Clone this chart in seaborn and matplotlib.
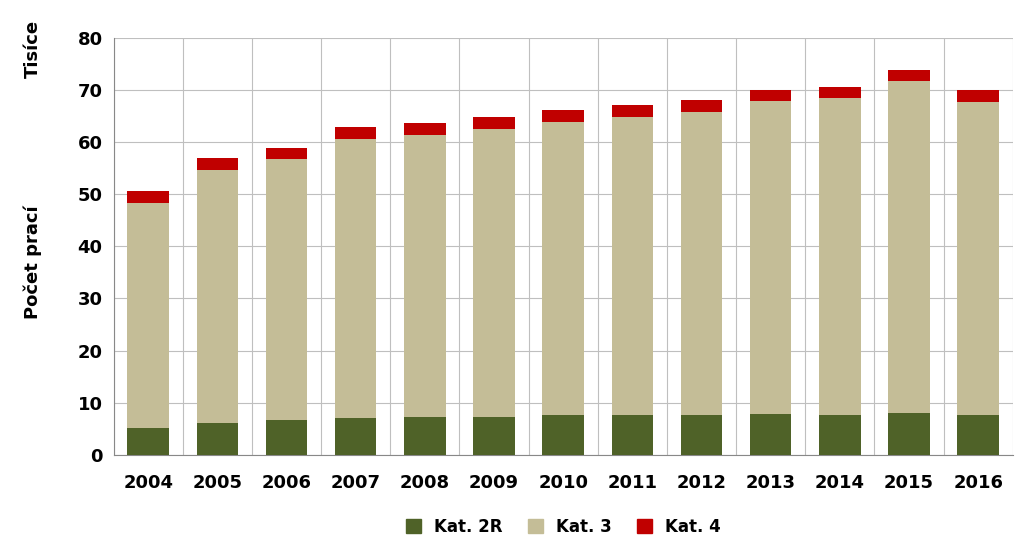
import matplotlib
matplotlib.use("Agg")
import matplotlib.pyplot as plt
import seaborn as sns
import numpy as np
import pandas as pd
from matplotlib.patches import Patch

years = ["2004","2005","2006","2007","2008","2009","2010","2011","2012","2013","2014","2015","2016"]
kat2r = [5.1, 6.1, 6.6, 7.1, 7.3, 7.3, 7.6, 7.7, 7.7, 7.9, 7.7, 8.1, 7.6]
kat3 = [43.1, 48.5, 50.1, 53.4, 54.0, 55.2, 56.3, 57.1, 58.0, 60.0, 60.7, 63.5, 60.1]
kat4 = [2.3, 2.4, 2.1, 2.3, 2.3, 2.3, 2.3, 2.3, 2.3, 2.1, 2.2, 2.2, 2.3]
colors = {"Kat. 2R": "#4F6228", "Kat. 3": "#C4BD97", "Kat. 4": "#C00000"}

c1 = np.array(kat2r)
c2 = c1 + np.array(kat3)
c3 = c2 + np.array(kat4)
df = pd.DataFrame({"year": years, "c1": c1, "c2": c2, "c3": c3})

fig = plt.figure(figsize=(10.24, 5.46), dpi=100)
ax = fig.add_axes([0.111, 0.167, 0.878, 0.764])
for col, key in [("c3", "Kat. 4"), ("c2", "Kat. 3"), ("c1", "Kat. 2R")]:
    sns.barplot(data=df, x="year", y=col, color=colors[key], width=0.6,
                saturation=1, ax=ax, zorder=3)
ax.set_ylim(0, 80)
ax.set_xlim(-0.5, len(years) - 0.5)
ax.set_yticks(range(0, 81, 10))
ax.set_xticks(np.arange(len(years) + 1) - 0.5, minor=True)
ax.grid(True, which="minor", axis="x", color="#BFBFBF", lw=0.8, zorder=0)
ax.grid(True, which="major", axis="y", color="#BFBFBF", lw=0.8, zorder=0)
ax.tick_params(which="both", length=0)
ax.tick_params(axis="both", labelsize=13)
ax.tick_params(axis="x", pad=14)
ax.tick_params(axis="y", pad=8)
for lab in ax.get_xticklabels() + ax.get_yticklabels():
    lab.set_fontweight("bold")
for s in ["top", "right"]:
    ax.spines[s].set_visible(False)
ax.spines["left"].set_color("#888888")
ax.spines["bottom"].set_color("#888888")
ax.set_xlabel("")
ax.set_ylabel("")
fig.text(0.032, 0.52, "Počet prací", rotation=90, fontsize=13, fontweight="bold", ha="center", va="center")
fig.text(0.032, 0.91, "Tisíce", rotation=90, fontsize=13, fontweight="bold", ha="center", va="center")
handles = [Patch(color=colors[k], label=k) for k in ["Kat. 2R", "Kat. 3", "Kat. 4"]]
fig.legend(handles=handles, loc="center", bbox_to_anchor=(0.55, 0.035), ncol=3, frameon=False,
           prop={"weight": "bold", "size": 12}, handlelength=0.9, handleheight=0.9, columnspacing=1.5)
fig.savefig("out.png", dpi=100)
